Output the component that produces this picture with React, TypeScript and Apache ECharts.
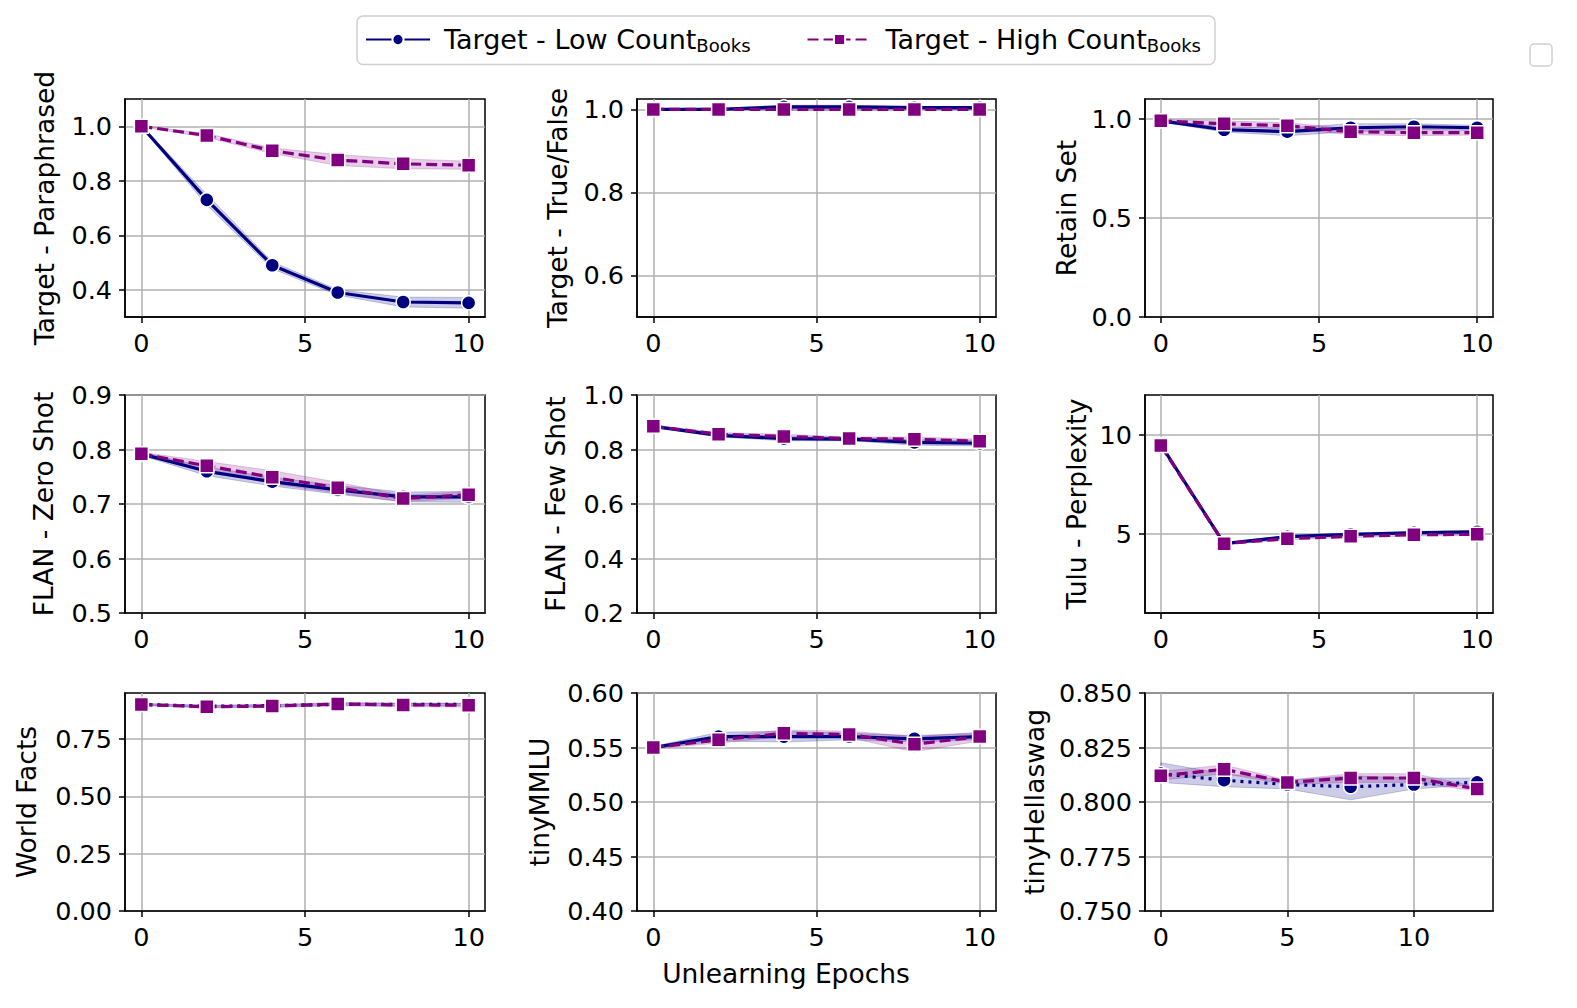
import React, { useEffect, useRef } from "react";
import * as echarts from "echarts";

const NAVY = "#000080";
const PURPLE = "#800080";
const NAVY_BAND = "rgba(0,0,128,0.2)";
const PURPLE_BAND = "rgba(128,0,128,0.2)";
const FONT = "DejaVu Sans";
const TICK_FS = 25.5;
const NAME_FS = 26.5;

const LOW_NAME = "Target - Low Count";
const HIGH_NAME = "Target - High Count";

const epochs = [0, 2, 4, 6, 8, 10];
const epochsHella = [0, 2.5, 5, 7.5, 10, 12.5];

// Target - Paraphrased
const paraLow = [1.0, 0.73, 0.49, 0.39, 0.355, 0.352];
const paraLowErr = [0.004, 0.02, 0.013, 0.01, 0.018, 0.02];
const paraHigh = [1.0, 0.966, 0.91, 0.876, 0.862, 0.857];
const paraHighErr = [0.002, 0.007, 0.01, 0.02, 0.018, 0.015];

// Target - True/False
const tfLow = [1.0, 1.0, 1.006, 1.006, 1.004, 1.004];
const tfLowErr = [0.002, 0.002, 0.004, 0.004, 0.003, 0.003];
const tfHigh = [1.0, 1.0, 1.0, 1.0, 1.0, 1.0];
const tfHighErr = [0.001, 0.001, 0.002, 0.002, 0.001, 0.001];

// Retain Set
const retLow = [0.99, 0.945, 0.935, 0.955, 0.96, 0.955];
const retLowErr = [0.005, 0.012, 0.02, 0.02, 0.015, 0.012];
const retHigh = [0.99, 0.975, 0.965, 0.935, 0.93, 0.93];
const retHighErr = [0.005, 0.015, 0.015, 0.015, 0.015, 0.012];

// FLAN - Zero Shot
const zsLow = [0.792, 0.76, 0.741, 0.726, 0.713, 0.713];
const zsLowErr = [0.003, 0.008, 0.008, 0.008, 0.009, 0.01];
const zsHigh = [0.792, 0.77, 0.749, 0.73, 0.71, 0.717];
const zsHighErr = [0.003, 0.008, 0.012, 0.01, 0.006, 0.006];

// FLAN - Few Shot
const fsLow = [0.885, 0.852, 0.84, 0.838, 0.826, 0.823];
const fsLowErr = [0.004, 0.006, 0.008, 0.006, 0.01, 0.01];
const fsHigh = [0.885, 0.856, 0.848, 0.84, 0.838, 0.83];
const fsHighErr = [0.004, 0.006, 0.008, 0.006, 0.008, 0.008];

// Tulu - Perplexity
const tuluLow = [9.5, 4.5, 4.85, 4.97, 5.05, 5.1];
const tuluLowErr = [0.05, 0.05, 0.06, 0.06, 0.07, 0.07];
const tuluHigh = [9.45, 4.5, 4.75, 4.87, 4.95, 4.97];
const tuluHighErr = [0.05, 0.05, 0.06, 0.06, 0.06, 0.06];

// World Facts
const wfLow = [0.9, 0.892, 0.895, 0.9, 0.9, 0.9];
const wfLowErr = [0.004, 0.005, 0.005, 0.005, 0.005, 0.005];
const wfHigh = [0.9, 0.89, 0.893, 0.902, 0.898, 0.897];
const wfHighErr = [0.004, 0.005, 0.006, 0.007, 0.008, 0.008];

// tinyMMLU
const mmluLow = [0.55, 0.56, 0.56, 0.56, 0.558, 0.56];
const mmluLowErr = [0.001, 0.004, 0.005, 0.003, 0.003, 0.003];
const mmluHigh = [0.55, 0.557, 0.563, 0.562, 0.553, 0.56];
const mmluHighErr = [0.001, 0.003, 0.003, 0.003, 0.007, 0.004];

// tinyHellaswag
const hellaLow = [0.813, 0.81, 0.808, 0.807, 0.808, 0.809];
const hellaLowLo = [0.809, 0.807, 0.806, 0.801, 0.806, 0.808];
const hellaLowHi = [0.818, 0.813, 0.81, 0.812, 0.811, 0.811];
const hellaHigh = [0.812, 0.815, 0.809, 0.811, 0.811, 0.806];
const hellaHighLo = [0.81, 0.813, 0.808, 0.809, 0.809, 0.805];
const hellaHighHi = [0.814, 0.817, 0.81, 0.813, 0.813, 0.807];

const xTicks = [0, 5, 10];

type Panel = {
  title: string;
  xs: number[];
  xMin: number;
  xMax: number;
  low: number[];
  lowLo: number[];
  lowHi: number[];
  high: number[];
  highLo: number[];
  highHi: number[];
  yMin: number;
  yMax: number;
  yTicks: number[];
  decimals: number;
  nameGap: number;
  lowDash: "solid" | "dotted";
};

const minus = (a: number[], e: number[]) => a.map((v, k) => v - e[k]);
const plus = (a: number[], e: number[]) => a.map((v, k) => v + e[k]);

const panels: Panel[] = [
  { title: "Target - Paraphrased", xs: epochs, xMin: -0.5, xMax: 10.5, low: paraLow, lowLo: minus(paraLow, paraLowErr), lowHi: plus(paraLow, paraLowErr), high: paraHigh, highLo: minus(paraHigh, paraHighErr), highHi: plus(paraHigh, paraHighErr), yMin: 0.3, yMax: 1.1, yTicks: [0.4, 0.6, 0.8, 1.0], decimals: 1, nameGap: 67, lowDash: "solid" },
  { title: "Target - True/False", xs: epochs, xMin: -0.5, xMax: 10.5, low: tfLow, lowLo: minus(tfLow, tfLowErr), lowHi: plus(tfLow, tfLowErr), high: tfHigh, highLo: minus(tfHigh, tfHighErr), highHi: plus(tfHigh, tfHighErr), yMin: 0.5, yMax: 1.025, yTicks: [0.6, 0.8, 1.0], decimals: 1, nameGap: 66, lowDash: "solid" },
  { title: "Retain Set", xs: epochs, xMin: -0.5, xMax: 10.5, low: retLow, lowLo: minus(retLow, retLowErr), lowHi: plus(retLow, retLowErr), high: retHigh, highLo: minus(retHigh, retHighErr), highHi: plus(retHigh, retHighErr), yMin: 0, yMax: 1.1, yTicks: [0, 0.5, 1.0], decimals: 1, nameGap: 65, lowDash: "solid" },
  { title: "FLAN - Zero Shot", xs: epochs, xMin: -0.5, xMax: 10.5, low: zsLow, lowLo: minus(zsLow, zsLowErr), lowHi: plus(zsLow, zsLowErr), high: zsHigh, highLo: minus(zsHigh, zsHighErr), highHi: plus(zsHigh, zsHighErr), yMin: 0.5, yMax: 0.9, yTicks: [0.5, 0.6, 0.7, 0.8, 0.9], decimals: 1, nameGap: 68, lowDash: "solid" },
  { title: "FLAN - Few Shot", xs: epochs, xMin: -0.5, xMax: 10.5, low: fsLow, lowLo: minus(fsLow, fsLowErr), lowHi: plus(fsLow, fsLowErr), high: fsHigh, highLo: minus(fsHigh, fsHighErr), highHi: plus(fsHigh, fsHighErr), yMin: 0.2, yMax: 1.0, yTicks: [0.2, 0.4, 0.6, 0.8, 1.0], decimals: 1, nameGap: 68, lowDash: "solid" },
  { title: "Tulu - Perplexity", xs: epochs, xMin: -0.5, xMax: 10.5, low: tuluLow, lowLo: minus(tuluLow, tuluLowErr), lowHi: plus(tuluLow, tuluLowErr), high: tuluHigh, highLo: minus(tuluHigh, tuluHighErr), highHi: plus(tuluHigh, tuluHighErr), yMin: 1, yMax: 12, yTicks: [5, 10], decimals: 0, nameGap: 55, lowDash: "solid" },
  { title: "World Facts", xs: epochs, xMin: -0.5, xMax: 10.5, low: wfLow, lowLo: minus(wfLow, wfLowErr), lowHi: plus(wfLow, wfLowErr), high: wfHigh, highLo: minus(wfHigh, wfHighErr), highHi: plus(wfHigh, wfHighErr), yMin: 0, yMax: 0.95, yTicks: [0, 0.25, 0.5, 0.75], decimals: 2, nameGap: 85, lowDash: "dotted" },
  { title: "tinyMMLU", xs: epochs, xMin: -0.5, xMax: 10.5, low: mmluLow, lowLo: minus(mmluLow, mmluLowErr), lowHi: plus(mmluLow, mmluLowErr), high: mmluHigh, highLo: minus(mmluHigh, mmluHighErr), highHi: plus(mmluHigh, mmluHighErr), yMin: 0.4, yMax: 0.6, yTicks: [0.4, 0.45, 0.5, 0.55, 0.6], decimals: 2, nameGap: 84, lowDash: "solid" },
  { title: "tinyHellaswag", xs: epochsHella, xMin: -0.625, xMax: 13.125, low: hellaLow, lowLo: hellaLowLo, lowHi: hellaLowHi, high: hellaHigh, highLo: hellaHighLo, highHi: hellaHighHi, yMin: 0.75, yMax: 0.85, yTicks: [0.75, 0.775, 0.8, 0.825, 0.85], decimals: 3, nameGap: 97, lowDash: "dotted" },
];

const colLeft = [125, 637, 1145];
const colWidth = [360, 359, 348];
const rowTop = [99, 395, 693];
const rowHeight = 218;

function bandSeries(i: number, xs: number[], lo: number[], hi: number[], fill: string) {
  return {
    type: "custom",
    xAxisIndex: i,
    yAxisIndex: i,
    silent: true,
    z: 1,
    data: xs.map((x, k) => [x, lo[k], hi[k]]),
    encode: { x: 0, y: [1, 2] },
    renderItem: (params: any, api: any) => {
      if (params.dataIndex !== 0) return null;
      const up = xs.map((x, k) => api.coord([x, hi[k]]));
      const dn = xs.map((x, k) => api.coord([x, lo[k]])).reverse();
      return {
        type: "polygon",
        shape: { points: up.concat(dn) },
        style: { fill, stroke: fill, lineWidth: 1 },
      };
    },
  };
}

function buildOption() {
  const grid: any[] = [];
  const xAxis: any[] = [];
  const yAxis: any[] = [];
  const series: any[] = [];
  panels.forEach((p, i) => {
    const row = Math.floor(i / 3);
    const col = i % 3;
    grid.push({
      left: colLeft[col],
      top: rowTop[row],
      width: colWidth[col],
      height: rowHeight,
      show: true,
      borderColor: "#000",
      borderWidth: 1.5,
      backgroundColor: "transparent",
    });
    xAxis.push({
      type: "value",
      gridIndex: i,
      min: p.xMin,
      max: p.xMax,
      axisLine: { show: true, onZero: false, lineStyle: { color: "#000", width: 1.5 } },
      axisTick: { show: true, length: 6, customValues: xTicks, lineStyle: { color: "#000", width: 1.5 } },
      axisLabel: { customValues: xTicks, fontSize: TICK_FS, color: "#000", margin: 13, fontFamily: FONT },
      splitLine: { show: true, lineStyle: { color: "#b0b0b0", width: 1.5 } },
    });
    yAxis.push({
      type: "value",
      gridIndex: i,
      min: p.yMin,
      max: p.yMax,
      name: p.title,
      nameLocation: "middle",
      nameGap: p.nameGap,
      nameRotate: 90,
      nameTextStyle: { fontSize: NAME_FS, color: "#000", fontFamily: FONT },
      axisLine: { show: true, onZero: false, lineStyle: { color: "#000", width: 1.5 } },
      axisTick: { show: true, length: 6, customValues: p.yTicks, lineStyle: { color: "#000", width: 1.5 } },
      axisLabel: {
        customValues: p.yTicks,
        fontSize: TICK_FS,
        color: "#000",
        margin: 13,
        fontFamily: FONT,
        formatter: (v: number) => v.toFixed(p.decimals),
      },
      splitLine: { show: true, lineStyle: { color: "#b0b0b0", width: 1.5 } },
    });
    series.push(bandSeries(i, p.xs, p.lowLo, p.lowHi, NAVY_BAND));
    series.push(bandSeries(i, p.xs, p.highLo, p.highHi, PURPLE_BAND));
    series.push({
      type: "line",
      name: LOW_NAME,
      xAxisIndex: i,
      yAxisIndex: i,
      z: 3,
      data: p.xs.map((x, k) => [x, p.low[k]]),
      symbol: "circle",
      symbolSize: 14,
      lineStyle: { color: NAVY, width: 3.2, type: p.lowDash === "dotted" ? [3, 5] : "solid" },
      itemStyle: { color: NAVY, borderColor: "#fff", borderWidth: 1.5 },
    });
    series.push({
      type: "line",
      name: HIGH_NAME,
      xAxisIndex: i,
      yAxisIndex: i,
      z: 4,
      data: p.xs.map((x, k) => [x, p.high[k]]),
      symbol: "rect",
      symbolSize: 14,
      lineStyle: { color: PURPLE, width: 3.2, type: [11, 5] },
      itemStyle: { color: PURPLE, borderColor: "#fff", borderWidth: 1.5 },
    });
  });

  return {
    animation: false,
    backgroundColor: "#fff",
    textStyle: { fontFamily: FONT },
    grid,
    xAxis,
    yAxis,
    series,
    legend: {
      left: 357,
      top: 16,
      data: [LOW_NAME, HIGH_NAME],
      itemWidth: 64,
      itemHeight: 14,
      itemGap: 56,
      padding: [10, 14, 10, 8],
      borderColor: "#d0d0d0",
      borderWidth: 1.5,
      borderRadius: 6,
      selectedMode: false,
      formatter: (n: string) => `{a|${n}}{s|Books}`,
      textStyle: {
        color: "#000",
        fontFamily: FONT,
        fontSize: 27,
        rich: {
          a: { fontSize: 27, fontFamily: FONT, color: "#000", padding: [0, 0, 0, 9] },
          s: { fontSize: 18, fontFamily: FONT, color: "#000", padding: [12, 0, 0, 0] },
        },
      },
    },
    graphic: [
      {
        type: "text",
        x: 786,
        y: 973,
        style: {
          text: "Unlearning Epochs",
          fontSize: NAME_FS,
          fontFamily: FONT,
          fill: "#000",
          align: "center",
          verticalAlign: "middle",
        },
      },
      {
        type: "rect",
        shape: { x: 1530, y: 44, width: 22, height: 22, r: 4 },
        style: { fill: "none", stroke: "#d0d0d0", lineWidth: 1.5 },
      },
    ],
  };
}

export default function App() {
  const ref = useRef<HTMLDivElement>(null);
  useEffect(() => {
    if (!ref.current) return;
    const chart = echarts.init(ref.current, undefined, { renderer: "svg" });
    chart.setOption(buildOption() as any);
    return () => chart.dispose();
  }, []);
  return (
    <div
      ref={ref}
      style={{ position: "fixed", left: 0, top: 0, width: 1577, height: 1008, background: "#fff" }}
    />
  );
}
